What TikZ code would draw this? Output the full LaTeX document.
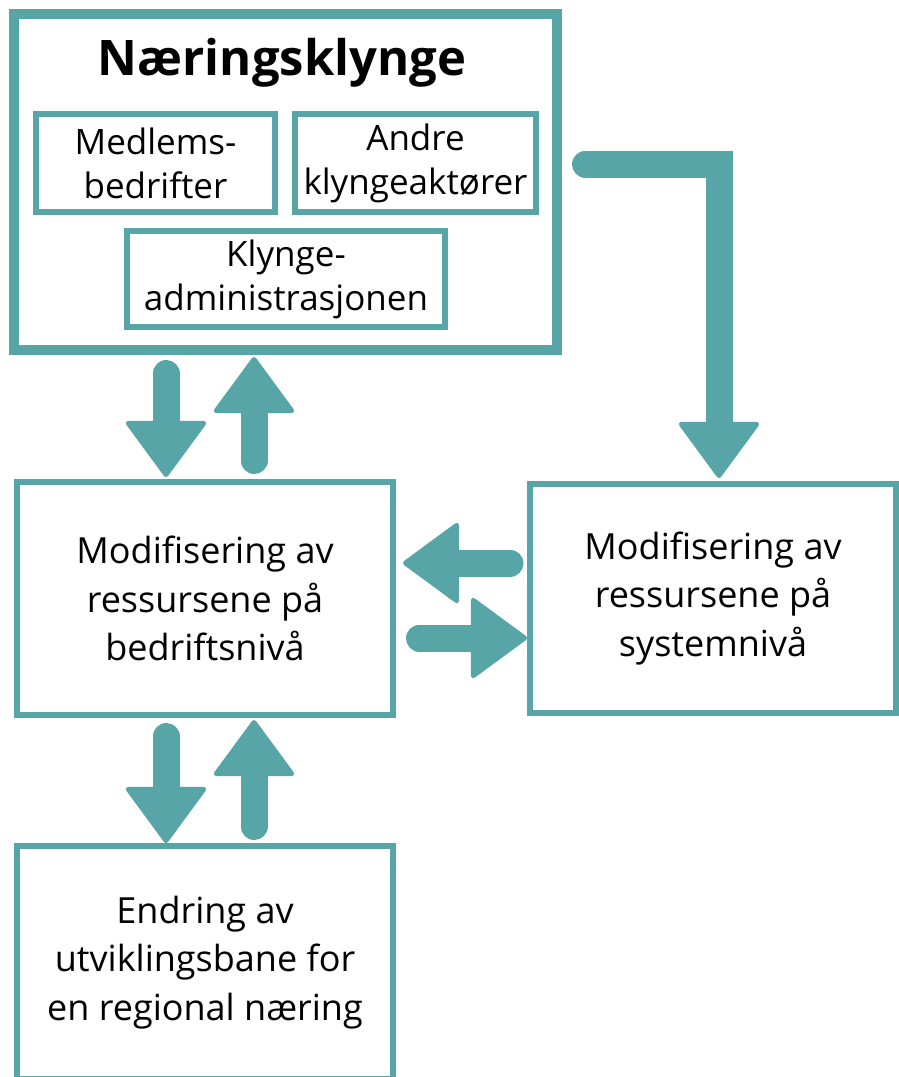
\documentclass[tikz,border=0pt]{standalone}
\usepackage{fontspec}
\setmainfont{Open Sans}
\usepackage{tikz}
\usetikzlibrary{arrows.meta, positioning, calc}
\definecolor{klyngeteal}{HTML}{57A5A6}
\tikzset{every node/.append style={align=center, inner sep=0pt}}

\begin{document}
\begin{tikzpicture}[
    x=1pt, y=-1pt,
    outer/.style={rectangle, draw=klyngeteal, line width=10pt,
        minimum width=543pt, minimum height=336pt},
    box/.style={rectangle, draw=klyngeteal, line width=6pt,
        font=\fontsize{35}{44}\selectfont},
    bigbox/.style={rectangle, draw=klyngeteal, line width=6pt,
        minimum width=376pt, minimum height=233pt, font=\fontsize{36}{48.5}\selectfont},
    fat/.style={draw=klyngeteal, line width=27pt, line cap=round,
        -{Triangle[length=58pt, width=84pt, line width'=5pt, round]}}
]
\useasboundingbox (0,0) rectangle (899,1077);
% Naeringsklynge (top)
\node[outer] (klynge) at (285.5,182) {};
\node[font=\bfseries\fontsize{49}{52}\selectfont] (tittel) at (282,63) {Næringsklynge};
\node[box, minimum width=239pt, minimum height=98pt] (medlem) at (155.5,163) {Medlems-\\bedrifter};
\node[box, minimum width=241pt, minimum height=98pt] (andre) at (415.5,163) {Andre\\klyngeaktører};
\node[box, minimum width=318pt, minimum height=96pt] (admin) at (286,279) {Klynge-\\administrasjonen};
% modification levels
\node[bigbox] (modb) at (205,598.5) {Modifisering av\\ressursene på\\bedriftsnivå};
\node[bigbox, minimum width=366pt, minimum height=229pt] (modsys) at (713,598.5)
    {Modifisering av\\ressursene på\\systemnivå};
\node[bigbox] (endring) at (205,962.5) {Endring av\\utviklingsbane for\\en regional næring};
% vertical arrow pairs
\coordinate (ned) at ([xshift=-39pt]modb.north);
\coordinate (opp) at ([xshift=49pt]modb.north);
\coordinate (ned2) at ([xshift=-39pt]modb.south);
\coordinate (opp2) at ([xshift=49pt]modb.south);
\draw[fat, shorten <=18.5pt, shorten >=2pt] (ned |- klynge.south) -- (ned);
\draw[fat, shorten <=18.5pt, shorten >=2pt] (opp) -- (opp |- klynge.south);
\draw[fat, shorten <=18.5pt, shorten >=0pt] (ned2) -- (ned2 |- endring.north);
\draw[fat, shorten <=16.5pt, shorten >=2pt] (opp2 |- endring.north) -- (opp2);
% horizontal arrows
\draw[fat, shorten <=17pt, shorten >=7pt] ([yshift=35.5pt]modsys.west) -- ([yshift=35.5pt]modb.east);
\draw[fat, shorten <=23.5pt, shorten >=0pt] ([yshift=-39.5pt]modb.east) -- ([yshift=-39.5pt]modsys.west);
% system level arrow
\draw[fat, shorten <=23.5pt, shorten >=3pt] ([yshift=18pt]klynge.east) -| ([xshift=6pt]modsys.north);
\end{tikzpicture}
\end{document}
